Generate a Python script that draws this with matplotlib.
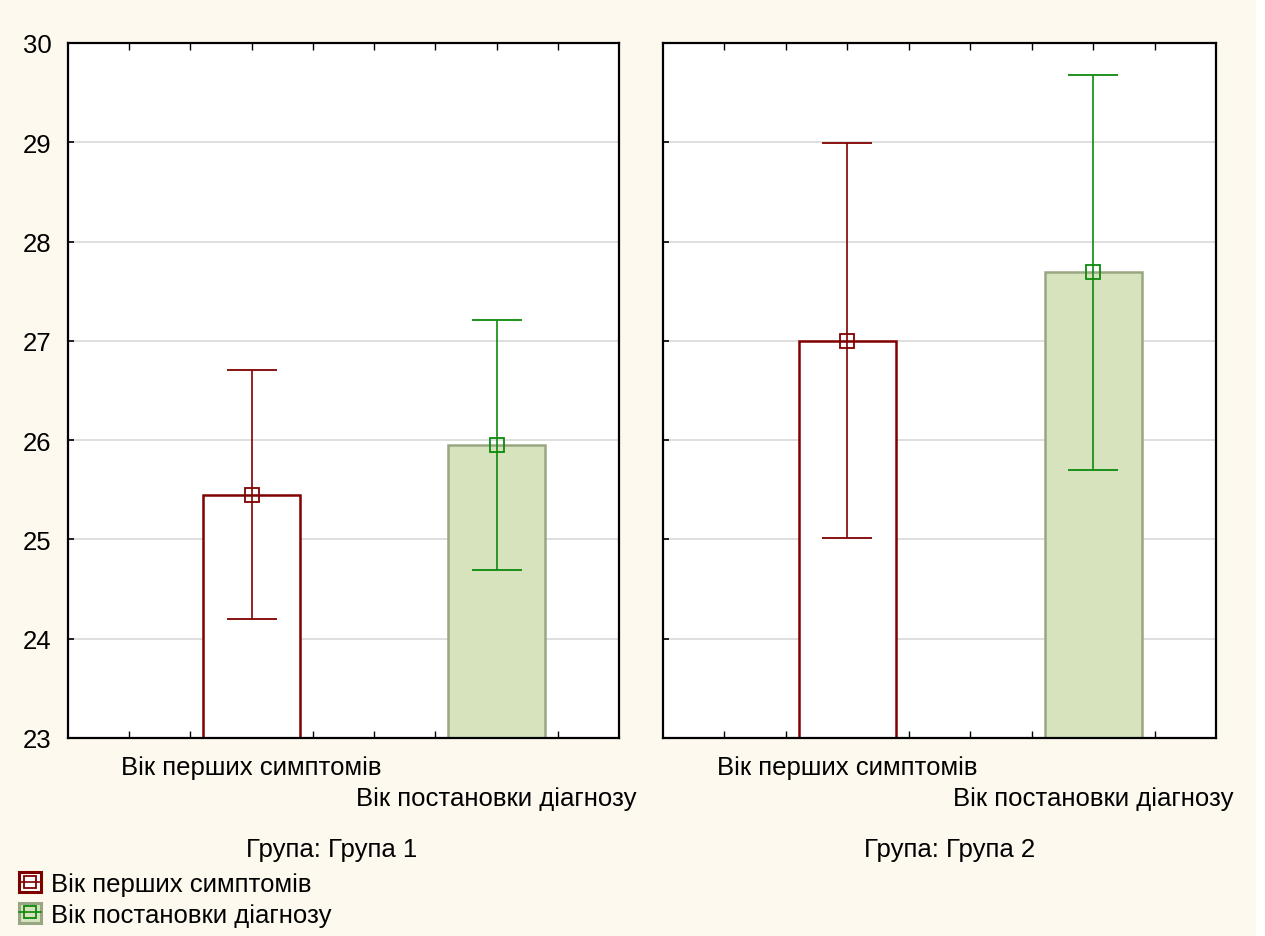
import matplotlib
matplotlib.use("Agg")
import matplotlib.pyplot as plt
from matplotlib.patches import Rectangle, Patch
from matplotlib.lines import Line2D
from matplotlib.legend_handler import HandlerTuple

plt.rcParams['font.family'] = ['Liberation Sans', 'DejaVu Sans']

groups = ["Група: Група 1", "Група: Група 2"]
categories = ["Вік перших симптомів", "Вік постановки діагнозу"]
means = [[25.45, 25.95], [27.00, 27.69]]
lower = [[24.20, 24.69], [25.01, 25.70]]
upper = [[26.71, 27.21], [28.99, 29.68]]
yticks = [23, 24, 25, 26, 27, 28, 29, 30]

W, H = 1265, 937
fig = plt.figure(figsize=(W / 100, H / 100), dpi=100)
fig.patch.set_facecolor('white')
fig.patches.append(Rectangle((0, 0), 1256 / W, 1, transform=fig.transFigure,
                             facecolor='#fdf9ee', edgecolor='none', zorder=-10))

red = '#800000'
green = '#0c8a0c'
green_fill = '#d7e3bd'
green_edge = '#98a682'
FS = 18.5

positions = [3, 7]
bar_w = 1.58
panels = [(68, 619), (663, 1216)]
top_px, bot_px = 44, 739

styles = [
    dict(face='white', edge=red, err=red),
    dict(face=green_fill, edge=green_edge, err=green),
]

for gi, (x0, x1) in enumerate(panels):
    ax = fig.add_axes([x0 / W, 1 - bot_px / H, (x1 - x0) / W, (bot_px - top_px) / H])
    ax.set_facecolor('white')
    ax.set_xlim(0, 9)
    ax.set_ylim(23, 30)
    ax.set_yticks(yticks)
    ax.grid(axis='y', color='#d9d9d9', lw=1.2, zorder=0)
    for ci in range(2):
        st = styles[ci]
        m = means[gi][ci]
        ax.bar(positions[ci], m - 23, bottom=23, width=bar_w, facecolor=st['face'],
               edgecolor=st['edge'], lw=1.8, zorder=2)
        ax.errorbar(positions[ci], m,
                    yerr=[[m - lower[gi][ci]], [upper[gi][ci] - m]],
                    fmt='s', color=st['err'], mfc='none', mec=st['err'], ms=10, mew=1.3,
                    elinewidth=1.2, capsize=18, capthick=1.3, zorder=3)
    ax.set_xticks(range(1, 9))
    ax.set_xticklabels([])
    ax.tick_params(axis='x', direction='in', top=True, bottom=True, length=5, width=1, color='black')
    ax.tick_params(axis='y', direction='in', length=4, width=1.2, labelsize=FS, pad=12)
    if gi == 1:
        ax.tick_params(axis='y', labelleft=False)
    for s in ax.spines.values():
        s.set_linewidth(1.6)
        s.set_color('black')
    ax.text(positions[0], -0.042, categories[0], transform=ax.get_xaxis_transform(),
            ha='center', va='center', fontsize=FS)
    ax.text(positions[1], -0.086, categories[1], transform=ax.get_xaxis_transform(),
            ha='center', va='center', fontsize=FS)

fig.text(332 / W, 1 - 850 / H, groups[0], ha='center', va='center', fontsize=FS)
fig.text(950 / W, 1 - 850 / H, groups[1], ha='center', va='center', fontsize=FS)

# legend: box with marker inside
h1 = (Patch(facecolor='white', edgecolor=red, lw=2.2),
      Line2D([], [], marker='s', color=red, lw=1.2, mfc='none', mec=red, ms=8, mew=1.3))
h2 = (Patch(facecolor=green_fill, edgecolor=green_edge, lw=2.2),
      Line2D([], [], marker='s', color=green, lw=1.2, mfc='none', mec=green, ms=8, mew=1.3))
fig.legend([h1, h2], categories, loc='upper left', bbox_to_anchor=(19 / W, 1 - 873 / H),
           frameon=False, fontsize=FS, handlelength=0.85, handleheight=0.85,
           handletextpad=0.4, labelspacing=0.25, borderpad=0, borderaxespad=0,
           handler_map={tuple: HandlerTuple(ndivide=1, pad=0)})

fig.savefig('out.png', dpi=100, facecolor=fig.get_facecolor())
